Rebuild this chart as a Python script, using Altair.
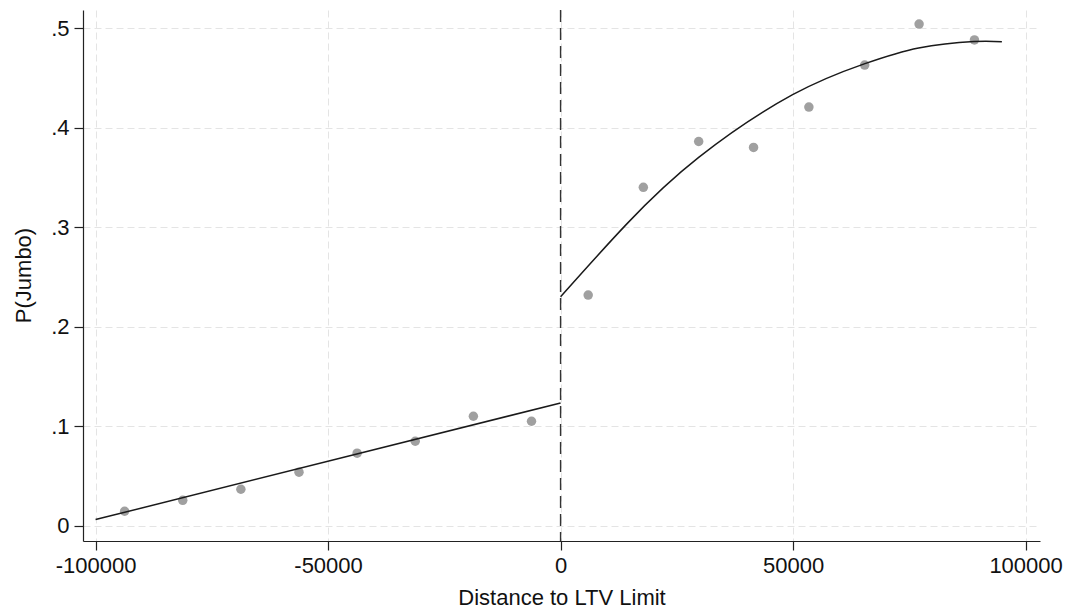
import altair as alt
import pandas as pd

# Binned scatter
left_x = [-93750, -81250, -68750, -56250, -43750, -31250, -18750, -6250]
left_y = [0.0146, 0.0256, 0.0367, 0.0538, 0.0729, 0.0849, 0.1100, 0.1050]
right_x = [5940, 17800, 29700, 41500, 53400, 65400, 77100, 89000]
right_y = [0.2317, 0.3400, 0.3860, 0.3800, 0.4206, 0.4628, 0.5040, 0.4880]

# Fitted lines
fit_left_x = [-100000, 0]
fit_left_y = [0.0062, 0.1234]
fit_right_x = [0, 14200, 29700, 49900, 65300, 77000, 88900, 94900]
fit_right_y = [0.2300, 0.3030, 0.3700, 0.4330, 0.4640, 0.4800, 0.4865, 0.4862]

cutoff = [0]
x_ticks = [-100000, -50000, 0, 50000, 100000]
y_ticks = [0, 0.1, 0.2, 0.3, 0.4, 0.5]

FONT = "Liberation Sans"

pts = pd.DataFrame({"x": left_x + right_x, "y": left_y + right_y})
fl = pd.DataFrame({"x": fit_left_x, "y": fit_left_y})
fr = pd.DataFrame({"x": fit_right_x, "y": fit_right_y})
cut = pd.DataFrame({"x": cutoff})

xscale = alt.Scale(domain=[-102700, 103100], nice=False, zero=False)
yscale = alt.Scale(domain=[-0.0153, 0.5181], nice=False, zero=False)

xaxis = alt.Axis(
    title="Distance to LTV Limit",
    values=x_ticks,
    labelExpr="datum.value < 0 ? '-' + format(abs(datum.value), 'd') : format(datum.value, 'd')",
    grid=True, gridColor="#e4e4e4", gridDash=[7, 4], gridWidth=1,
    domainColor="#222222", domainWidth=1.2,
    tickColor="#222222", tickSize=9, tickWidth=1.2,
    labelFont=FONT, labelFontSize=22, labelColor="#111111", labelPadding=5,
    labelFlush=False, labelOverlap=False,
    titleFont=FONT, titleFontSize=22, titleFontWeight="normal", titleColor="#111111",
    titleBaseline="alphabetic", titleY=63, titleAnchor="middle",
)
yaxis = alt.Axis(
    title="P(Jumbo)",
    values=y_ticks,
    labelExpr="datum.value == 0 ? '0' : replace(format(datum.value, '.1f'), '0.', '.')",
    grid=True, gridColor="#e4e4e4", gridDash=[7, 4], gridWidth=1,
    domainColor="#222222", domainWidth=1.2,
    tickColor="#222222", tickSize=9, tickWidth=1.2,
    labelFont=FONT, labelFontSize=22, labelColor="#111111", labelPadding=5,
    labelFlush=False, labelOverlap=False,
    titleFont=FONT, titleFontSize=22, titleFontWeight="normal", titleColor="#111111",
    titleAngle=270, titleBaseline="alphabetic", titleAlign="center",
    titleX=-53, titleY=265,
)

points = alt.Chart(pts).mark_circle(size=90, color="#a0a0a0", opacity=1).encode(
    x=alt.X("x:Q", scale=xscale, axis=xaxis),
    y=alt.Y("y:Q", scale=yscale, axis=yaxis),
)
line_l = alt.Chart(fl).mark_line(color="#1a1a1a", strokeWidth=1.5).encode(
    x=alt.X("x:Q", scale=xscale), y=alt.Y("y:Q", scale=yscale)
)
line_r = alt.Chart(fr).mark_line(color="#1a1a1a", strokeWidth=1.5, interpolate="natural").encode(
    x=alt.X("x:Q", scale=xscale), y=alt.Y("y:Q", scale=yscale)
)
vline = alt.Chart(cut).mark_rule(color="#333333", strokeWidth=1.4, strokeDash=[12, 6]).encode(
    x=alt.X("x:Q", scale=xscale)
)

chart = alt.layer(points, vline, line_l, line_r).properties(
    width=957, height=531,
    autosize=alt.AutoSizeParams(type="none"),
    padding={"left": 83, "top": 10, "right": 28, "bottom": 68},
    background="white",
).configure_view(stroke=None)

chart.save("out.html", embed_options={"renderer": "svg", "actions": False})
